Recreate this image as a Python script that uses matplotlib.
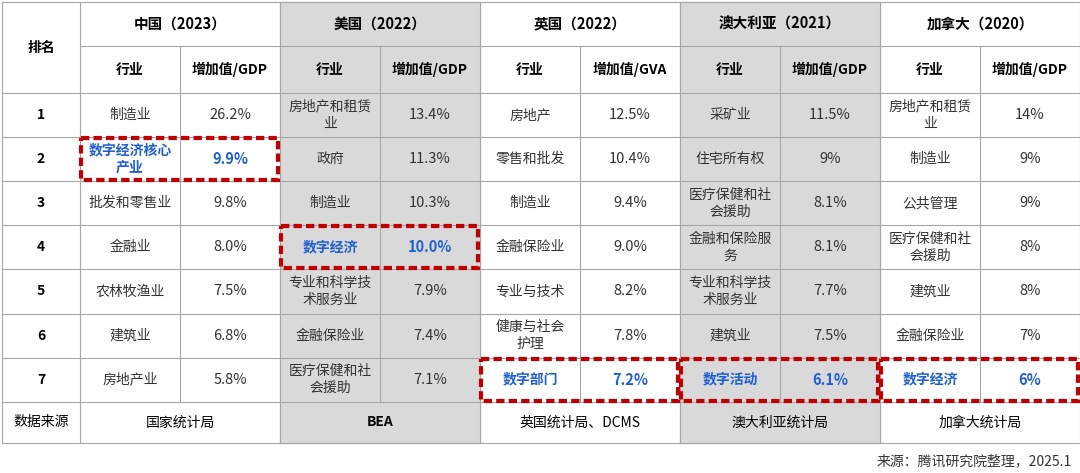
import matplotlib.pyplot as plt
from matplotlib.patches import Rectangle

plt.rcParams['font.family'] = ['Noto Sans CJK SC']

countries = ['中国（2023）', '美国（2022）', '英国（2022）', '澳大利亚（2021）', '加拿大（2020）']
metric_labels = ['增加值/GDP', '增加值/GDP', '增加值/GVA', '增加值/GDP', '增加值/GDP']
ranks = ['1', '2', '3', '4', '5', '6', '7']
china_ind = ['制造业', '数字经济核心\n产业', '批发和零售业', '金融业', '农林牧渔业', '建筑业', '房地产业']
china_val = ['26.2%', '9.9%', '9.8%', '8.0%', '7.5%', '6.8%', '5.8%']
us_ind = ['房地产和租赁\n业', '政府', '制造业', '数字经济', '专业和科学技\n术服务业', '金融保险业', '医疗保健和社\n会援助']
us_val = ['13.4%', '11.3%', '10.3%', '10.0%', '7.9%', '7.4%', '7.1%']
uk_ind = ['房地产', '零售和批发', '制造业', '金融保险业', '专业与技术', '健康与社会\n护理', '数字部门']
uk_val = ['12.5%', '10.4%', '9.4%', '9.0%', '8.2%', '7.8%', '7.2%']
au_ind = ['采矿业', '住宅所有权', '医疗保健和社\n会援助', '金融和保险服\n务', '专业和科学技\n术服务业', '建筑业', '数字活动']
au_val = ['11.5%', '9%', '8.1%', '8.1%', '7.7%', '7.5%', '6.1%']
ca_ind = ['房地产和租赁\n业', '制造业', '公共管理', '医疗保健和社\n会援助', '建筑业', '金融保险业', '数字经济']
ca_val = ['14%', '9%', '9%', '8%', '8%', '7%', '6%']
sources = ['国家统计局', 'BEA', '英国统计局、DCMS', '澳大利亚统计局', '加拿大统计局']
highlight_row = [1, 3, 6, 6, 6]  # index of the digital row per country

industries = [china_ind, us_ind, uk_ind, au_ind, ca_ind]
values = [china_val, us_val, uk_val, au_val, ca_val]
gray_cols = [1, 3]

fig = plt.figure(figsize=(10.8, 4.73), dpi=100)
ax = fig.add_axes([0, 0, 1, 1])
ax.set_xlim(0, 1080)
ax.set_ylim(473, 0)
ax.axis('off')

x0, w0, wc = 2, 78, 100
y_rows = [2, 46, 93] + [93 + 44.1 * (i + 1) for i in range(7)] + [443]
line_c = '#a6a6a6'
blue = '#1f5fd6'
red = '#c00000'

def cx(i, j):
    return x0 + w0 + (2 * i + j) * wc

# gray column backgrounds
for g in gray_cols:
    ax.add_patch(Rectangle((cx(g, 0), y_rows[0]), 2 * wc, y_rows[-1] - y_rows[0], color='#d9d9d9', zorder=0))

# grid lines
for y in y_rows:
    if y == y_rows[1]:
        ax.plot([x0 + w0, cx(4, 2)], [y, y], color=line_c, lw=0.8)
    else:
        ax.plot([x0, cx(4, 2)], [y, y], color=line_c, lw=0.8)
xs = [x0, x0 + w0] + [cx(i, j) for i in range(5) for j in (1, 2)]
for x in xs:
    if x in [cx(i, 1) for i in range(5)]:
        ax.plot([x, x], [y_rows[1], y_rows[-2]], color=line_c, lw=0.8)
    else:
        ax.plot([x, x], [y_rows[0], y_rows[-1]], color=line_c, lw=0.8)

def txt(x, y, s, **kw):
    kw.setdefault('fontsize', 10)
    ax.text(x, y, s, ha='center', va='center', linespacing=1.3, **kw)

txt(x0 + w0 / 2, (y_rows[0] + y_rows[2]) / 2, '排名', fontweight='bold')
for i in range(5):
    txt(cx(i, 1), (y_rows[0] + y_rows[1]) / 2, countries[i], fontweight='bold', fontsize=10.5)
    txt(cx(i, 0) + wc / 2, (y_rows[1] + y_rows[2]) / 2, '行业', fontweight='bold')
    txt(cx(i, 1) + wc / 2, (y_rows[1] + y_rows[2]) / 2, metric_labels[i], fontweight='bold')
    for r in range(7):
        ym = (y_rows[2 + r] + y_rows[3 + r]) / 2
        hl = r == highlight_row[i]
        kw = dict(color=blue, fontweight='bold') if hl else dict(color='#333333')
        txt(cx(i, 0) + wc / 2, ym, industries[i][r], **kw)
        txt(cx(i, 1) + wc / 2, ym, values[i][r], fontsize=10.5, **kw)
        if hl:
            ax.add_patch(Rectangle((cx(i, 0) + 1, y_rows[2 + r] + 1), 2 * wc - 3, y_rows[3 + r] - y_rows[2 + r] - 2,
                                   fill=False, ec=red, lw=3, ls=(0, (2, 1)), zorder=5))
    txt(cx(i, 1), (y_rows[-2] + y_rows[-1]) / 2, sources[i], fontweight='bold' if sources[i] == 'BEA' else 'normal')

for r in range(7):
    txt(x0 + w0 / 2, (y_rows[2 + r] + y_rows[3 + r]) / 2, ranks[r], fontweight='bold')
txt(x0 + w0 / 2, (y_rows[-2] + y_rows[-1]) / 2, '数据来源')

ax.text(1072, 461, '来源：腾讯研究院整理，2025.1', ha='right', va='center', fontsize=10, color='#333333')

fig.savefig('out.png', dpi=100)
